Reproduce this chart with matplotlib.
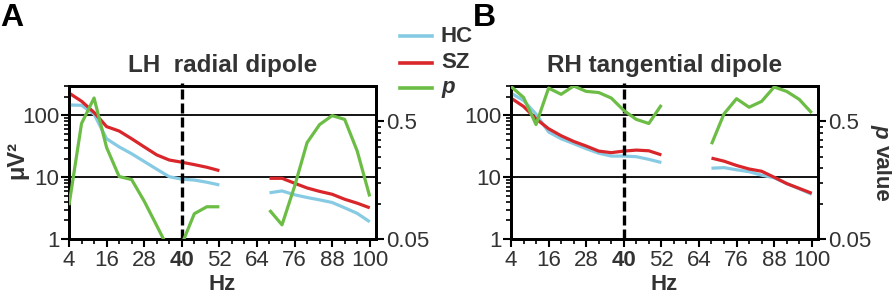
import numpy as np
import matplotlib
matplotlib.use("Agg")
import matplotlib.pyplot as plt
from matplotlib.lines import Line2D
from matplotlib.ticker import FixedLocator, NullFormatter, LogLocator

plt.rcParams['font.family'] = ['Liberation Sans', 'DejaVu Sans']

# ---------------- data ----------------
# Panel A (LH radial dipole)
a_f1 = [4, 8, 12, 16, 20, 24, 28, 32, 36, 40, 44, 48, 52]
a_sz1 = [231, 170, 112, 66, 56, 42, 31, 23, 19, 17.5, 16, 14.5, 12.8]
a_hc1 = [148, 146, 105, 42, 31, 24, 18, 13.5, 10.2, 9.3, 9.0, 8.3, 7.5]
a_p1 = [0.097, 0.48, 0.79, 0.30, 0.17, 0.16, 0.105, 0.065, 0.04, 0.045, 0.082, 0.094, 0.094]
a_f2 = [68, 72, 76, 80, 84, 88, 92, 96, 100]
a_sz2 = [9.6, 9.6, 8.0, 6.7, 5.9, 5.3, 4.4, 3.8, 3.2]
a_hc2 = [5.6, 6.0, 5.2, 4.7, 4.3, 3.9, 3.2, 2.6, 1.9]
a_p2 = [0.088, 0.066, 0.14, 0.33, 0.47, 0.56, 0.52, 0.28, 0.115]

# Panel B (RH tangential dipole)
b_f1 = [4, 8, 12, 16, 20, 24, 28, 32, 36, 40, 44, 48, 52]
b_sz1 = [191, 140, 88, 61, 47, 38, 32, 26.5, 25, 26.5, 27.5, 26.8, 23]
b_hc1 = [230, 175, 105, 54, 42, 35, 29, 24.5, 22, 22, 21.5, 19.5, 17.3]
b_p1 = [0.99, 0.80, 0.47, 0.96, 0.85, 1.0, 0.90, 0.88, 0.79, 0.62, 0.52, 0.48, 0.69]
b_f2 = [68, 72, 76, 80, 84, 88, 92, 96, 100]
b_sz2 = [20.4, 18.2, 15.5, 13.6, 12.5, 10.0, 7.9, 6.6, 5.5]
b_hc2 = [14, 14.3, 13.2, 12.3, 10.8, 9.8, 7.9, 6.5, 5.3]
b_p2 = [0.32, 0.58, 0.78, 0.66, 0.74, 0.98, 0.90, 0.77, 0.59]

xticks = [4, 16, 28, 40, 52, 64, 76, 88, 100]
titles = ["LH  radial dipole", "RH tangential dipole"]

C_HC = "#86cbe3"
C_SZ = "#d9262b"
C_P = "#6cbd45"
TXT = "#333333"

W, H = 892, 299
fig = plt.figure(figsize=(W / 100, H / 100), dpi=100)


def fx(px):
    return px / W


def fy(py):
    return 1 - py / H


panels = [
    (69, a_f1, a_sz1, a_hc1, a_p1, a_f2, a_sz2, a_hc2, a_p2, titles[0]),
    (511, b_f1, b_sz1, b_hc1, b_p1, b_f2, b_sz2, b_hc2, b_p2, titles[1]),
]

for i, (left, f1, sz1, hc1, p1, f2, sz2, hc2, p2, title) in enumerate(panels):
    ax = fig.add_axes([fx(left), fy(239), 307 / W, 153 / H])
    ax2 = ax.twinx()
    ax.set_yscale("log")
    ax2.set_yscale("log")
    ax.set_xlim(4, 102)
    ax.set_ylim(1, 300)
    ax2.set_ylim(0.05, 1.0)

    # grid lines at 10 and 100
    for g in (10, 100):
        ax.axhline(g, color="black", lw=1.3, zorder=1)

    ax.plot(f1, hc1, color=C_HC, lw=2.3, zorder=3, solid_capstyle="butt")
    ax.plot(f2, hc2, color=C_HC, lw=2.3, zorder=3, solid_capstyle="butt")
    ax.plot(f1, sz1, color=C_SZ, lw=2.3, zorder=4, solid_capstyle="butt")
    ax.plot(f2, sz2, color=C_SZ, lw=2.3, zorder=4, solid_capstyle="butt")
    ax2.plot(f1, p1, color=C_P, lw=2.3, zorder=5, solid_capstyle="butt")
    ax2.plot(f2, p2, color=C_P, lw=2.3, zorder=5, solid_capstyle="butt")

    ax.axvline(40, color="black", lw=2.4, ls=(0, (3, 1.2)), zorder=6, clip_on=False,
               ymin=0, ymax=1.02)

    # ticks
    ax.set_xticks(xticks)
    ax.set_xticks(np.arange(4, 101, 4), minor=True)
    ax.set_yticks([1, 10, 100])
    ax.set_yticklabels(["1", "10", "100"])
    ax.yaxis.set_minor_locator(LogLocator(base=10, subs=np.arange(2, 10)))
    ax.yaxis.set_minor_formatter(NullFormatter())
    ax2.set_yticks([0.05, 0.5])
    ax2.set_yticklabels(["0.05", "0.5"])
    ax2.yaxis.set_minor_locator(FixedLocator([0.1, 0.15, 0.2, 0.25, 0.3, 0.35, 0.4, 0.45]))
    ax2.yaxis.set_minor_formatter(NullFormatter())

    for a in (ax, ax2):
        a.tick_params(which="major", direction="out", length=6, width=1.5,
                      labelsize=16, labelcolor=TXT, pad=1)
        a.tick_params(which="minor", direction="out", length=3.5, width=1.2)
        for s in a.spines.values():
            s.set_linewidth(2)
            s.set_color("black")
    ax.tick_params(axis="x", pad=2)
    for lbl in ax.get_xticklabels():
        if lbl.get_text() == "40":
            lbl.set_fontweight("bold")

    ax.set_title(title, fontsize=17.5, fontweight="bold", color=TXT, pad=10)
    ax.set_xlabel("Hz", fontsize=16, fontweight="bold", color=TXT, labelpad=2)

# y label of panel A
fig.text(fx(17), fy(160), "μV²", fontsize=17, fontweight="bold", color=TXT,
         rotation=90, ha="center", va="center")

# panel letters
fig.text(fx(0), fy(26.5), "A", fontsize=23, fontweight="bold", va="baseline", ha="left")
fig.text(fx(473), fy(26.5), "B", fontsize=23, fontweight="bold", va="baseline", ha="left")

# legend
leg = [("HC", C_HC, "normal"), ("SZ", C_SZ, "normal"), ("p", C_P, "italic")]
for (lab, col, st), yy in zip(leg, [36, 63, 88]):
    fig.add_artist(Line2D([fx(400), fx(432)], [fy(yy), fy(yy)], color=col, lw=2.6,
                          transform=fig.transFigure))
    fig.text(fx(441), fy(yy), lab, fontsize=16, fontweight="bold", style=st,
             color=TXT, va="center", ha="left")

# p value label (panel B right)
fig.text(fx(881), fy(124), "p", fontsize=16, fontweight="bold", style="italic",
         color=TXT, rotation=270, ha="center", va="top")
fig.text(fx(881), fy(145), "value", fontsize=16, fontweight="bold",
         color=TXT, rotation=270, ha="center", va="top")

fig.savefig("out.png", dpi=100)
